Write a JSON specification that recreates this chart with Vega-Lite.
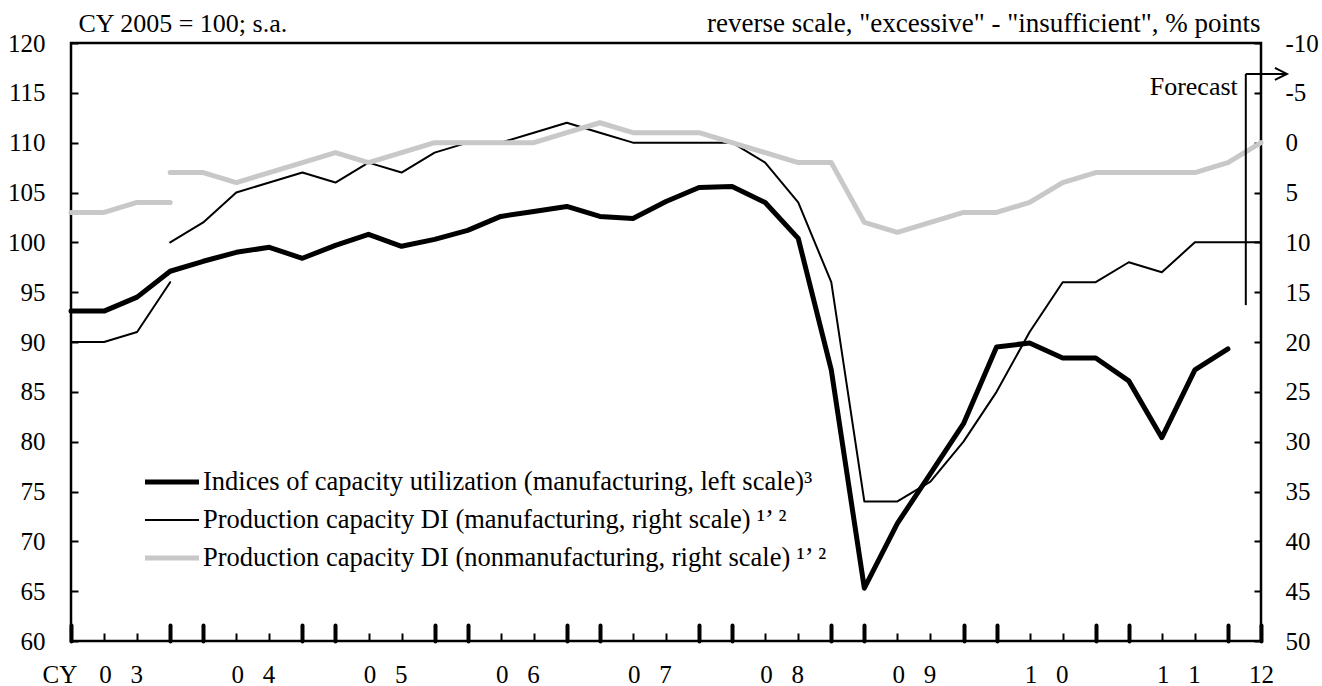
{
  "$schema": "https://vega.github.io/schema/vega-lite/v6.json",
  "width": 1190,
  "height": 598,
  "autosize": {"type": "none"},
  "padding": {"left": 71, "top": 43, "right": 61, "bottom": 45},
  "background": "white",
  "config": {
    "view": {"stroke": "black", "strokeWidth": 2.5, "fill": "white"},
    "font": "Liberation Serif",
    "axis": {
      "labelFont": "Liberation Serif",
      "titleFont": "Liberation Serif",
      "labelColor": "black",
      "titleColor": "black",
      "tickColor": "black",
      "domain": false,
      "grid": false,
      "titleFontWeight": "normal",
      "labelFontSize": 25,
      "titleFontSize": 26
    },
    "legend": {
      "labelFont": "Liberation Serif",
      "labelColor": "black"
    }
  },
  "datasets": {
    "cu": [
      {"t": 2003.00, "series": "CU", "v": 93.1},
      {"t": 2003.25, "series": "CU", "v": 93.1},
      {"t": 2003.50, "series": "CU", "v": 94.5},
      {"t": 2003.75, "series": "CU", "v": 97.1},
      {"t": 2004.00, "series": "CU", "v": 98.1},
      {"t": 2004.25, "series": "CU", "v": 99.0},
      {"t": 2004.50, "series": "CU", "v": 99.5},
      {"t": 2004.75, "series": "CU", "v": 98.4},
      {"t": 2005.00, "series": "CU", "v": 99.7},
      {"t": 2005.25, "series": "CU", "v": 100.8},
      {"t": 2005.50, "series": "CU", "v": 99.6},
      {"t": 2005.75, "series": "CU", "v": 100.3},
      {"t": 2006.00, "series": "CU", "v": 101.2},
      {"t": 2006.25, "series": "CU", "v": 102.6},
      {"t": 2006.50, "series": "CU", "v": 103.1},
      {"t": 2006.75, "series": "CU", "v": 103.6},
      {"t": 2007.00, "series": "CU", "v": 102.6},
      {"t": 2007.25, "series": "CU", "v": 102.4},
      {"t": 2007.50, "series": "CU", "v": 104.1},
      {"t": 2007.75, "series": "CU", "v": 105.5},
      {"t": 2008.00, "series": "CU", "v": 105.6},
      {"t": 2008.25, "series": "CU", "v": 104.0},
      {"t": 2008.50, "series": "CU", "v": 100.4},
      {"t": 2008.75, "series": "CU", "v": 87.2},
      {"t": 2009.00, "series": "CU", "v": 65.3},
      {"t": 2009.25, "series": "CU", "v": 71.8},
      {"t": 2009.50, "series": "CU", "v": 76.8},
      {"t": 2009.75, "series": "CU", "v": 81.8},
      {"t": 2010.00, "series": "CU", "v": 89.5},
      {"t": 2010.25, "series": "CU", "v": 89.9},
      {"t": 2010.50, "series": "CU", "v": 88.4},
      {"t": 2010.75, "series": "CU", "v": 88.4},
      {"t": 2011.00, "series": "CU", "v": 86.1},
      {"t": 2011.25, "series": "CU", "v": 80.4},
      {"t": 2011.50, "series": "CU", "v": 87.2},
      {"t": 2011.75, "series": "CU", "v": 89.3}
    ],
    "di": [
      {"t": 2003.00, "series": "DIM", "basis": "old", "v": 20},
      {"t": 2003.25, "series": "DIM", "basis": "old", "v": 20},
      {"t": 2003.50, "series": "DIM", "basis": "old", "v": 19},
      {"t": 2003.75, "series": "DIM", "basis": "old", "v": 14},
      {"t": 2003.75, "series": "DIM", "basis": "new", "v": 10},
      {"t": 2004.00, "series": "DIM", "basis": "new", "v": 8},
      {"t": 2004.25, "series": "DIM", "basis": "new", "v": 5},
      {"t": 2004.50, "series": "DIM", "basis": "new", "v": 4},
      {"t": 2004.75, "series": "DIM", "basis": "new", "v": 3},
      {"t": 2005.00, "series": "DIM", "basis": "new", "v": 4},
      {"t": 2005.25, "series": "DIM", "basis": "new", "v": 2},
      {"t": 2005.50, "series": "DIM", "basis": "new", "v": 3},
      {"t": 2005.75, "series": "DIM", "basis": "new", "v": 1},
      {"t": 2006.00, "series": "DIM", "basis": "new", "v": 0},
      {"t": 2006.25, "series": "DIM", "basis": "new", "v": 0},
      {"t": 2006.50, "series": "DIM", "basis": "new", "v": -1},
      {"t": 2006.75, "series": "DIM", "basis": "new", "v": -2},
      {"t": 2007.00, "series": "DIM", "basis": "new", "v": -1},
      {"t": 2007.25, "series": "DIM", "basis": "new", "v": 0},
      {"t": 2007.50, "series": "DIM", "basis": "new", "v": 0},
      {"t": 2007.75, "series": "DIM", "basis": "new", "v": 0},
      {"t": 2008.00, "series": "DIM", "basis": "new", "v": 0},
      {"t": 2008.25, "series": "DIM", "basis": "new", "v": 2},
      {"t": 2008.50, "series": "DIM", "basis": "new", "v": 6},
      {"t": 2008.75, "series": "DIM", "basis": "new", "v": 14},
      {"t": 2009.00, "series": "DIM", "basis": "new", "v": 36},
      {"t": 2009.25, "series": "DIM", "basis": "new", "v": 36},
      {"t": 2009.50, "series": "DIM", "basis": "new", "v": 34},
      {"t": 2009.75, "series": "DIM", "basis": "new", "v": 30},
      {"t": 2010.00, "series": "DIM", "basis": "new", "v": 25},
      {"t": 2010.25, "series": "DIM", "basis": "new", "v": 19},
      {"t": 2010.50, "series": "DIM", "basis": "new", "v": 14},
      {"t": 2010.75, "series": "DIM", "basis": "new", "v": 14},
      {"t": 2011.00, "series": "DIM", "basis": "new", "v": 12},
      {"t": 2011.25, "series": "DIM", "basis": "new", "v": 13},
      {"t": 2011.50, "series": "DIM", "basis": "new", "v": 10},
      {"t": 2011.75, "series": "DIM", "basis": "new", "v": 10},
      {"t": 2012.00, "series": "DIM", "basis": "new", "v": 10},
      {"t": 2003.00, "series": "DIN", "basis": "old", "v": 7},
      {"t": 2003.25, "series": "DIN", "basis": "old", "v": 7},
      {"t": 2003.50, "series": "DIN", "basis": "old", "v": 6},
      {"t": 2003.75, "series": "DIN", "basis": "old", "v": 6},
      {"t": 2003.75, "series": "DIN", "basis": "new", "v": 3},
      {"t": 2004.00, "series": "DIN", "basis": "new", "v": 3},
      {"t": 2004.25, "series": "DIN", "basis": "new", "v": 4},
      {"t": 2004.50, "series": "DIN", "basis": "new", "v": 3},
      {"t": 2004.75, "series": "DIN", "basis": "new", "v": 2},
      {"t": 2005.00, "series": "DIN", "basis": "new", "v": 1},
      {"t": 2005.25, "series": "DIN", "basis": "new", "v": 2},
      {"t": 2005.50, "series": "DIN", "basis": "new", "v": 1},
      {"t": 2005.75, "series": "DIN", "basis": "new", "v": 0},
      {"t": 2006.00, "series": "DIN", "basis": "new", "v": 0},
      {"t": 2006.25, "series": "DIN", "basis": "new", "v": 0},
      {"t": 2006.50, "series": "DIN", "basis": "new", "v": 0},
      {"t": 2006.75, "series": "DIN", "basis": "new", "v": -1},
      {"t": 2007.00, "series": "DIN", "basis": "new", "v": -2},
      {"t": 2007.25, "series": "DIN", "basis": "new", "v": -1},
      {"t": 2007.50, "series": "DIN", "basis": "new", "v": -1},
      {"t": 2007.75, "series": "DIN", "basis": "new", "v": -1},
      {"t": 2008.00, "series": "DIN", "basis": "new", "v": 0},
      {"t": 2008.25, "series": "DIN", "basis": "new", "v": 1},
      {"t": 2008.50, "series": "DIN", "basis": "new", "v": 2},
      {"t": 2008.75, "series": "DIN", "basis": "new", "v": 2},
      {"t": 2009.00, "series": "DIN", "basis": "new", "v": 8},
      {"t": 2009.25, "series": "DIN", "basis": "new", "v": 9},
      {"t": 2009.50, "series": "DIN", "basis": "new", "v": 8},
      {"t": 2009.75, "series": "DIN", "basis": "new", "v": 7},
      {"t": 2010.00, "series": "DIN", "basis": "new", "v": 7},
      {"t": 2010.25, "series": "DIN", "basis": "new", "v": 6},
      {"t": 2010.50, "series": "DIN", "basis": "new", "v": 4},
      {"t": 2010.75, "series": "DIN", "basis": "new", "v": 3},
      {"t": 2011.00, "series": "DIN", "basis": "new", "v": 3},
      {"t": 2011.25, "series": "DIN", "basis": "new", "v": 3},
      {"t": 2011.50, "series": "DIN", "basis": "new", "v": 3},
      {"t": 2011.75, "series": "DIN", "basis": "new", "v": 2},
      {"t": 2012.00, "series": "DIN", "basis": "new", "v": 0}
    ]
  },
  "resolve": {"scale": {"y": "independent"}, "axis": {"x": "independent", "y": "independent"}},
  "layer": [
    {
      "data": {"name": "cu"},
      "mark": {"type": "line", "strokeCap": "round", "strokeJoin": "round"},
      "encoding": {
        "x": {
          "field": "t", "type": "quantitative",
          "scale": {"domain": [2003, 2012], "nice": false, "zero": false},
          "axis": {
            "orient": "bottom",
            "values": [2003.25, 2003.5, 2004.25, 2004.5, 2005.25, 2005.5, 2006.25, 2006.5, 2007.25, 2007.5, 2008.25, 2008.5, 2009.25, 2009.5, 2010.25, 2010.5, 2011.25, 2011.5],
            "labels": false,
            "title": null,
            "offset": -8,
            "tickSize": 8,
            "tickWidth": 2
          }
        },
        "y": {
          "field": "v", "type": "quantitative",
          "scale": {"domain": [60, 120], "nice": false, "zero": false},
          "axis": {
            "orient": "left",
            "values": [60, 65, 70, 75, 80, 85, 90, 95, 100, 105, 110, 115, 120],
            "offset": -7,
            "tickSize": 7,
            "tickWidth": 2,
            "labelPadding": 26,
            "title": "CY 2005 = 100; s.a.",
            "titleAngle": 0,
            "titleAlign": "left",
            "titleBaseline": "alphabetic",
            "titleX": 0,
            "titleY": -12
          }
        },
        "color": {
          "field": "series", "type": "nominal",
          "scale": {"domain": ["CU", "DIM", "DIN"], "range": ["#000000", "#000000", "#c8c8c8"]},
          "legend": {
            "title": null,
            "orient": "none",
            "legendX": 87.75,
            "legendY": 425.75,
            "padding": 0,
            "symbolType": "M-3.375,0H3.375",
            "symbolSize": 256,
            "symbolOffset": 0,
            "labelFontSize": 26.5,
            "labelOffset": 17.75,
            "labelLimit": 2000,
            "rowPadding": 11,
            "labelExpr": "datum.value == 'CU' ? 'Indices of capacity utilization (manufacturing, left scale)\u00b3' : datum.value == 'DIM' ? 'Production capacity DI (manufacturing, right scale) \u00b9\u2019 \u00b2' : 'Production capacity DI (nonmanufacturing, right scale) \u00b9\u2019 \u00b2'"
          }
        },
        "strokeWidth": {
          "field": "series", "type": "nominal",
          "scale": {"type": "ordinal", "domain": ["CU", "DIM", "DIN"], "range": [5, 2, 5]},
          "legend": {
            "title": null,
            "orient": "none",
            "legendX": 87.75,
            "legendY": 425.75,
            "padding": 0,
            "symbolType": "M-3.375,0H3.375",
            "symbolSize": 256,
            "symbolOffset": 0,
            "labelFontSize": 26.5,
            "labelOffset": 17.75,
            "labelLimit": 2000,
            "rowPadding": 11,
            "labelExpr": "datum.value == 'CU' ? 'Indices of capacity utilization (manufacturing, left scale)\u00b3' : datum.value == 'DIM' ? 'Production capacity DI (manufacturing, right scale) \u00b9\u2019 \u00b2' : 'Production capacity DI (nonmanufacturing, right scale) \u00b9\u2019 \u00b2'"
          }
        }
      }
    },
    {
      "data": {"name": "di"},
      "mark": {"type": "line", "strokeCap": "round", "strokeJoin": "round"},
      "encoding": {
        "x": {
          "field": "t", "type": "quantitative",
          "scale": {"domain": [2003, 2012], "nice": false, "zero": false},
          "axis": {
            "orient": "bottom",
            "values": [2003.375, 2004.375, 2005.375, 2006.375, 2007.375, 2008.375, 2009.375, 2010.375, 2011.375, 2012],
            "ticks": false,
            "labelExpr": "datum.value > 2011.9 ? '12' : floor((floor(datum.value) - 2000) / 10) + '\u00a0\u00a0\u00a0' + ((floor(datum.value) - 2000) % 10)",
            "labelPadding": 21,
            "labelBaseline": "top",
            "labelFlush": false,
            "labelOverlap": false,
            "title": "CY",
            "titleFontSize": 25,
            "titleX": -29,
            "titleY": 21,
            "titleAlign": "left",
            "titleBaseline": "top"
          }
        },
        "y": {
          "field": "v", "type": "quantitative",
          "scale": {"domain": [-10, 50], "nice": false, "zero": false, "reverse": true},
          "axis": {
            "orient": "right",
            "values": [-10, -5, 0, 5, 10, 15, 20, 25, 30, 35, 40, 45, 50],
            "labelExpr": "'' + datum.value",
            "offset": -7,
            "tickSize": 7,
            "tickWidth": 2,
            "labelPadding": 24,
            "title": "reverse scale, \"excessive\" - \"insufficient\", % points",
            "titleFontSize": 27,
            "titleAngle": 0,
            "titleAlign": "right",
            "titleBaseline": "alphabetic",
            "titleX": 6,
            "titleY": -12
          }
        },
        "detail": {"field": "basis", "type": "nominal"},
        "color": {"field": "series", "type": "nominal", "scale": {"domain": ["CU", "DIM", "DIN"], "range": ["#000000", "#000000", "#c8c8c8"]}},
        "strokeWidth": {"field": "series", "type": "nominal", "scale": {"type": "ordinal", "domain": ["CU", "DIM", "DIN"], "range": [5, 2, 5]}}
      }
    },
    {
      "data": {"values": [{}]},
      "mark": {"type": "rule", "color": "black", "strokeWidth": 2},
      "encoding": {
        "x": {
          "datum": 2011.885, "type": "quantitative",
          "axis": {
            "orient": "bottom",
            "values": [2003, 2003.75, 2004, 2004.75, 2005, 2005.75, 2006, 2006.75, 2007, 2007.75, 2008, 2008.75, 2009, 2009.75, 2010, 2010.75, 2011, 2011.75, 2012],
            "labels": false,
            "title": null,
            "offset": -16,
            "tickSize": 16,
            "tickWidth": 4,
            "tickCap": "round"
          }
        },
        "y": {"datum": 116.9, "type": "quantitative", "scale": {"domain": [60, 120], "nice": false, "zero": false}, "axis": null},
        "y2": {"datum": 93.7}
      }
    },
    {
      "data": {"values": [{}]},
      "mark": {"type": "rule", "color": "black", "strokeWidth": 2, "clip": false},
      "encoding": {
        "x": {"datum": 2011.885, "type": "quantitative", "axis": null},
        "x2": {"datum": 2012.19},
        "y": {"datum": 116.9, "type": "quantitative", "scale": {"domain": [60, 120], "nice": false, "zero": false}, "axis": null}
      }
    },
    {
      "data": {"values": [{}]},
      "mark": {"type": "point", "shape": "M-2,-1L0,0L-2,1", "size": 144, "filled": false, "stroke": "black", "strokeWidth": 2, "opacity": 1, "clip": false},
      "encoding": {
        "x": {"datum": 2012.196, "type": "quantitative", "axis": null},
        "y": {"datum": 116.9, "type": "quantitative", "scale": {"domain": [60, 120], "nice": false, "zero": false}, "axis": null}
      }
    },
    {
      "data": {"values": [{}]},
      "mark": {"type": "text", "text": "Forecast", "align": "right", "baseline": "middle", "dx": -8, "fontSize": 26, "font": "Liberation Serif", "color": "black"},
      "encoding": {
        "x": {"datum": 2011.885, "type": "quantitative", "axis": null},
        "y": {"datum": 115.6, "type": "quantitative", "scale": {"domain": [60, 120], "nice": false, "zero": false}, "axis": null}
      }
    }
  ]
}
